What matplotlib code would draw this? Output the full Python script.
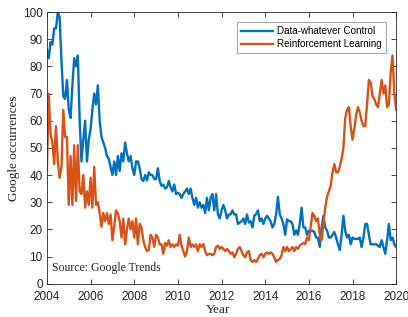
import matplotlib
matplotlib.use("Agg")
import matplotlib.pyplot as plt
import numpy as np

# monthly Google Trends values, Jan 2004 .. Jan 2020
dwc = [86, 83, 89, 88, 94, 94, 100, 98, 82, 69, 68, 75,
       64, 61, 73, 83, 80, 84, 60, 45, 53, 60, 45, 53,
       57, 64, 70, 66, 73, 60, 54, 52, 50, 47, 46, 43,
       40, 45, 40, 47, 41.5, 48, 45, 52, 48, 45, 47, 42.5,
       40, 45, 45, 42.5, 38.5, 37.8, 40, 38, 41, 40, 40, 38.5,
       38.5, 42.5, 37.8, 36, 36.5, 35, 35.5, 37.8, 35.5, 34, 36.5, 33,
       33.5, 33, 31.6, 33, 34, 35, 33, 35, 31.6, 29, 31.6, 28,
       30, 28, 29, 26, 31.6, 27, 31.6, 33, 27, 33, 25.6, 24,
       27, 29, 27, 24, 25.5, 25.5, 27, 25.5, 25.5, 22, 22.5, 23,
       24, 22, 25.5, 22.5, 23, 20.7, 25, 25.6, 27, 23, 24, 22,
       24, 25, 24, 23, 20.7, 22, 25.6, 32, 25.6, 24, 22, 18,
       23.7, 23, 23, 22, 18, 19.6, 18, 22, 28, 20.7, 20.7, 18,
       19.5, 19.5, 19.5, 19, 17, 17, 13.5, 20.7, 25, 20.7, 19.5, 17,
       17, 18, 19, 17, 14.5, 12.4, 18, 25, 19.5, 17, 18, 14.5,
       17, 16.5, 16.5, 16.5, 17, 13.5, 17, 22, 22, 18, 14.5, 14.5,
       14.5, 14.5, 14, 13.5, 16, 13.5, 11, 16, 22, 16, 17, 14.5,
       13.5]

rl = [42, 70, 55, 52, 44, 58, 45, 39, 43, 64, 54, 54,
      29, 47, 29, 51, 30.5, 51, 34, 33, 40, 28, 34, 29,
      39, 28, 43, 29, 30, 26, 21, 26, 23, 26, 22, 25.5,
      16, 21, 27, 26, 23, 17, 24, 14.5, 20, 24, 20, 23,
      17, 24, 14.5, 22, 20.7, 16, 13.5, 12, 12.4, 18, 17, 13.6,
      18, 17, 14.5, 14.5, 11, 15, 14, 16, 13.5, 14.5, 13.5, 14.5,
      14, 18, 14, 12, 10, 12, 17, 13.5, 14.5, 13.5, 14.5, 12,
      14.6, 13.5, 14.6, 12, 10.5, 11, 11, 10.5, 11, 13.5, 14, 12.8,
      13.5, 12.8, 12, 12.8, 12, 11, 11.5, 9.7, 11, 12.8, 13.5, 12,
      10.5, 9.7, 11.5, 12, 8.7, 8, 8.7, 8, 9.1, 10.5, 11, 9.7,
      11, 11.5, 11, 11.5, 11, 9.7, 8, 8.7, 9.1, 10.5, 13.5, 12,
      13.5, 12, 12.8, 13.5, 12, 13.5, 12.8, 14, 14.6, 15, 14.6, 17,
      16, 21, 26, 25, 23, 24, 18, 16, 22, 28, 32, 34,
      36, 41, 44, 41, 41, 43, 46, 50, 61, 64, 65, 58,
      53, 57, 62, 65, 63, 60, 58, 58, 66, 75, 74, 69,
      68, 66, 65, 70, 75, 70, 73, 65, 66, 78, 84, 70,
      64]

years = 2004 + np.arange(len(dwc)) / 12.0

blue = '#0072BD'
orange = '#D95319'
dark = '#262626'

plt.rcParams['font.family'] = 'Liberation Sans'

fig = plt.figure(figsize=(4.08, 3.17), dpi=100)
ax = fig.add_axes([0.115, 0.105, 0.856, 0.857])

ax.plot(years, dwc, color=blue, lw=1.7, label='Data-whatever Control')
ax.plot(years, rl, color=orange, lw=1.7, label='Reinforcement Learning')

ax.set_xlim(2004, 2020)
ax.set_ylim(0, 100)
ax.set_xticks(np.arange(2004, 2021, 2))
ax.set_yticks(np.arange(0, 101, 10))
ax.tick_params(direction='in', length=3.5, width=0.6, top=True, right=True,
               labelsize=8.5, colors=dark)
ax.tick_params(axis='x', pad=5.5)
ax.tick_params(axis='y', pad=3)
for s in ax.spines.values():
    s.set_color(dark)
    s.set_linewidth(0.6)

ax.set_xlabel('Year', family='Liberation Serif', fontsize=9.5, color=dark, va='center')
ax.xaxis.set_label_coords(0.49, -0.098)
ax.set_ylabel('Google occurrences', family='Liberation Serif', fontsize=9.5,
              color=dark, va='center')
ax.yaxis.set_label_coords(-0.093, 0.5)

ax.text(0.015, 0.045, 'Source: Google Trends', transform=ax.transAxes,
        family='Liberation Serif', fontsize=8.5, color=dark)

leg = ax.legend(loc='upper right', bbox_to_anchor=(0.97, 0.962), fontsize=7.1,
                frameon=True, fancybox=False, handlelength=3.3, borderpad=0.4,
                labelspacing=0.3, handletextpad=0.4, borderaxespad=0)
leg.get_frame().set_edgecolor('#7f7f7f')
leg.get_frame().set_linewidth(0.6)

fig.savefig('out.png', dpi=100)
